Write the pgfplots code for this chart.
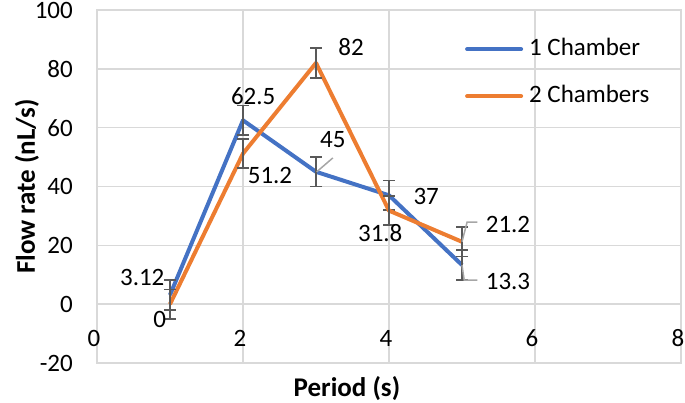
\documentclass[border=0pt]{standalone}
\usepackage{fontspec}
\setmainfont{Carlito}
\usepackage{pgfplots}
\pgfplotsset{compat=1.18}
\definecolor{xblue}{HTML}{4472C4}
\definecolor{xorange}{HTML}{ED7D31}
\definecolor{xgrid}{HTML}{D9D9D9}
\definecolor{xerr}{HTML}{595959}
\definecolor{xlead}{HTML}{A6A6A6}
\newcommand\fs{\fontsize{25}{30}\selectfont}
\newcommand\fl{\fontsize{27}{32}\selectfont\bfseries}
\begin{document}
\begin{tikzpicture}
\path[use as bounding box] (-97pt,-40pt) rectangle (588pt,363pt);
\begin{axis}[
 at={(0pt,0pt)}, anchor=south west,
 scale only axis, width=584pt, height=353pt,
 xmin=0, xmax=8, ymin=-20, ymax=100,
 xtick={0,2,...,8}, ytick={-20,0,...,100},
 grid=major, major grid style={xgrid, line width=1.5pt},
 axis line style={xgrid, line width=1.5pt},
 major tick length=0pt,
 tick label style={font=\fs},
 /pgf/number format/assume math mode=true,
 xticklabel style={anchor=center, inner sep=0pt, yshift=25pt, xshift=-3pt},
 yticklabel style={anchor=east, inner sep=0pt, xshift=-24pt},
 xlabel={Period (s)}, ylabel={Flow rate (nL/s)},
 xlabel style={font=\fl, at={(axis description cs:0.428,0)}, anchor=center, yshift=-26pt},
 ylabel style={font=\fl, at={(axis description cs:-0.1199,0.5)}, anchor=center},
 legend style={at={(axis description cs:0.630,0.8225)}, anchor=west, draw=none, fill=none,
   font=\fs, inner sep=0pt, row sep=25pt, column sep=6pt,
   nodes={inner sep=0pt, text height=17pt, text depth=5pt}},
 legend image code/.code={\draw[#1, line width=4pt, line cap=round] (2pt,0pt) -- (56pt,0pt);},
 legend cell align=left,
 clip=false,
]
\addplot[xblue, line width=4pt, line join=round, mark=none,
  error bars/.cd, y dir=both, y explicit,
  error bar style={xerr, line width=1.7pt},
  error mark options={xerr, rotate=90, mark size=6pt, line width=1.7pt}]
  table[x=x, y=y, y error=e] {
x y e
1 3.12 5
2 62.5 5
3 45 5
4 37 5
5 13.3 5
};
\addlegendentry{1 Chamber}
\addplot[xorange, line width=4pt, line join=round, mark=none,
  error bars/.cd, y dir=both, y explicit,
  error bar style={xerr, line width=1.7pt},
  error mark options={xerr, rotate=90, mark size=6pt, line width=1.7pt}]
  table[x=x, y=y, y error=e] {
x y e
1 0 5
2 51.2 5
3 82 5
4 31.8 5
5 21.2 5
};
\addlegendentry{2 Chambers}
\draw[xlead, line width=1.5pt] (axis cs:3.01,45) -- (axis cs:3.23,49.7);
\draw[xlead, line width=1.5pt] (axis cs:5.0,21.2) -- (axis cs:5.07,27.9) -- (axis cs:5.21,27.9);
\draw[xlead, line width=1.5pt] (axis cs:5.0,13.3) -- (axis cs:5.03,8.2) -- (axis cs:5.21,8.2);
\node[font=\fs, inner sep=0pt] at (axis cs:2.14,70.7) {62.5};
\node[font=\fs, inner sep=0pt] at (axis cs:2.37,43.9) {51.2};
\node[font=\fs, inner sep=0pt] at (axis cs:3.48,87.4) {82};
\node[font=\fs, inner sep=0pt] at (axis cs:3.23,55.8) {45};
\node[font=\fs, inner sep=0pt] at (axis cs:4.51,36.7) {37};
\node[font=\fs, inner sep=0pt] at (axis cs:3.88,24.1) {31.8};
\node[font=\fs, inner sep=0pt] at (axis cs:5.63,27.2) {21.2};
\node[font=\fs, inner sep=0pt] at (axis cs:5.63,7.8) {13.3};
\node[font=\fs, inner sep=0pt] at (axis cs:0.62,9.2) {3.12};
\node[font=\fs, inner sep=0pt] at (axis cs:0.86,-5.1) {0};
\end{axis}
\end{tikzpicture}
\end{document}
